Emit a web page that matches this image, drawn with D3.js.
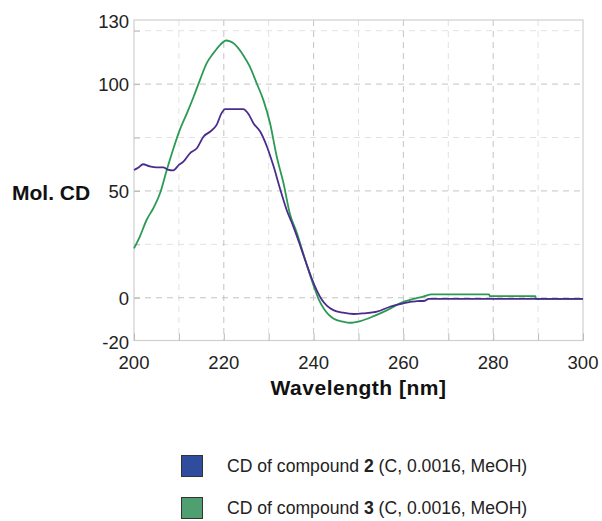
<!DOCTYPE html>
<html><head><meta charset="utf-8">
<script src="https://cdn.jsdelivr.net/npm/d3@7"></script>
<style>body{margin:0;background:#fff}svg{display:block}text{font-family:"Liberation Sans",Arial,sans-serif}</style>
</head><body><svg id="c" width="602" height="521"></svg>
<script>
const xTicks = [200, 220, 240, 260, 280, 300];
const xMinor = [210, 230, 250, 270, 290];
const yTicks = [-20, 0, 50, 100, 130];
const yMajorGrid = [0, 50, 100];
const yMinor = [25, 75, 125];

const wl2 = [200,201,202,203.5,205,206.5,207.5,208.7,210,211,212.5,214,215.5,217,218.4,219.5,220.3,224.3,225.5,226.6,228.1,229.6,231.1,232.6,234,235.5,237,238.3,239.5,240.7,241.8,243,244.4,246.6,248.9,251.1,254.1,257,260,261.5,263,264.8,265.6,300];
const cd2 = [59.8,61,62.5,61.5,61,61,60,59.6,62.2,63.7,67.7,70,75.5,77.8,80.9,86.4,88.3,88.3,86,81.7,77.8,70.8,61.4,50.5,41.1,33.3,24.5,16.5,9.5,3.5,-0.8,-3.8,-5.8,-7,-7.6,-7.3,-6.5,-4.2,-2.6,-1.9,-1.6,-1.4,-0.5,-0.5];

const wl3 = [200,201.3,202.8,204.3,205.8,207.3,208.8,210.2,211.8,213.3,214.7,216.2,217.7,219.2,220.5,221.4,222.1,224.4,225.8,227.3,228.8,230.3,231.8,233.3,234.7,236.3,237.8,239,240.2,241.2,242.4,243.4,244.4,246.6,248.1,250.4,253.4,256.4,259.2,262.3,264.4,266.3,279.1,279.2,289.4,289.5,300];
const cd3 = [23.1,28.6,36.4,41.9,48.9,59.8,70,78.6,86.4,94.2,102,109.8,114.5,118.4,120.4,120,119.2,113.3,108.2,100.5,92.6,81.7,66,53.6,39.5,30.2,20,12,4.5,-1,-5.5,-8,-9.7,-11.2,-11.7,-10.9,-8.6,-5.8,-2.6,-0.5,0.5,1.6,1.6,0.8,0.8,-0.5,-0.5];

const seriesNames = ["CD of compound ", "CD of compound "];
const seriesNums = ["2", "3"];
const seriesTail = [" (C, 0.0016, MeOH)", " (C, 0.0016, MeOH)"];

const svg = d3.select("#c");
const L = 134, R = 583, T = 20, B = 340.5;
const x = d3.scaleLinear().domain([200, 300]).range([L, R]);
const y = d3.scaleLinear().domain([-20, 130]).range([B, T]);

const g = svg.append("g");
g.selectAll(".vmin").data(xMinor).enter().append("line")
  .attr("x1", d => x(d)).attr("x2", d => x(d)).attr("y1", T).attr("y2", B)
  .attr("stroke", "#e2e2e2").attr("stroke-dasharray", "6,5");
g.selectAll(".hmin").data(yMinor).enter().append("line")
  .attr("x1", L).attr("x2", R).attr("y1", d => y(d)).attr("y2", d => y(d))
  .attr("stroke", "#e2e2e2").attr("stroke-dasharray", "6,5");
g.selectAll(".vmaj").data(xTicks.filter(d => d > 200 && d < 300)).enter().append("line")
  .attr("x1", d => x(d)).attr("x2", d => x(d)).attr("y1", T).attr("y2", B)
  .attr("stroke", "#c4c4c4").attr("stroke-dasharray", "6,5");
g.selectAll(".hmaj").data(yMajorGrid).enter().append("line")
  .attr("x1", L).attr("x2", R).attr("y1", d => y(d)).attr("y2", d => y(d))
  .attr("stroke", "#c4c4c4").attr("stroke-dasharray", "6,5");

g.append("rect").attr("x", L).attr("y", T).attr("width", R - L).attr("height", B - T)
  .attr("fill", "none").attr("stroke", "#cfcfcf").attr("stroke-width", 1.2);

const xAxis = d3.axisBottom(x).tickValues(xTicks.concat(xMinor)).tickSize(-7).tickFormat("");
const ax = svg.append("g").attr("transform", `translate(0,${B})`).call(xAxis);
ax.select(".domain").remove();
ax.selectAll("line").attr("stroke", "#bbb");
const yAxis = d3.axisLeft(y).tickValues([0, 50, 100].concat(yMinor)).tickSize(-6).tickFormat("");
const ay = svg.append("g").attr("transform", `translate(${L},0)`).call(yAxis);
ay.select(".domain").remove();
ay.selectAll("line").attr("stroke", "#bbb");

svg.selectAll(".xl").data(xTicks).enter().append("text")
  .attr("x", d => x(d)).attr("y", 369).attr("text-anchor", "middle")
  .attr("font-size", 18.5).attr("fill", "#222").text(d => d);
svg.selectAll(".yl").data(yTicks).enter().append("text")
  .attr("x", 129).attr("y", d => y(d) + (d === 130 ? 8 : d === -20 ? 8 : 7))
  .attr("text-anchor", "end").attr("font-size", 18.5).attr("fill", "#222").text(d => d);

svg.append("text").attr("x", 12).attr("y", 200).attr("font-size", 21).attr("font-weight", "bold")
  .attr("fill", "#111").text("Mol. CD");
svg.append("text").attr("x", (L + R) / 2 + 0).attr("y", 395).attr("text-anchor", "middle")
  .attr("font-size", 21).attr("font-weight", "bold").attr("letter-spacing", "0.5px")
  .attr("fill", "#111").text("Wavelength [nm]");

const line = d3.line().x(d => x(d[0])).y(d => y(d[1])).curve(d3.curveMonotoneX);
const colors = ["#4a2c8e", "#2c9a55"];
const data3 = wl3.map((w, i) => [w, cd3[i]]);
const data2 = wl2.map((w, i) => [w, cd2[i]]);
svg.append("path").datum(data3).attr("d", line).attr("fill", "none").attr("stroke", colors[1]).attr("stroke-width", 1.8);
svg.append("path").datum(data2).attr("d", line).attr("fill", "none").attr("stroke", colors[0]).attr("stroke-width", 1.8);

const swatch = ["#2f4c9d", "#4f9f70"];
const ly = [466, 508];
[0, 1].forEach(i => {
  svg.append("rect").attr("x", 181.5).attr("y", ly[i] - 10.5).attr("width", 21).attr("height", 21)
    .attr("fill", swatch[i]).attr("stroke", "#333").attr("stroke-width", 1);
  const t = svg.append("text").attr("x", 227).attr("y", ly[i] + 6).attr("font-size", 17.6).attr("fill", "#222");
  t.append("tspan").text(seriesNames[i]);
  t.append("tspan").attr("font-weight", "bold").text(seriesNums[i]);
  t.append("tspan").text(seriesTail[i]);
});
</script></body></html>
